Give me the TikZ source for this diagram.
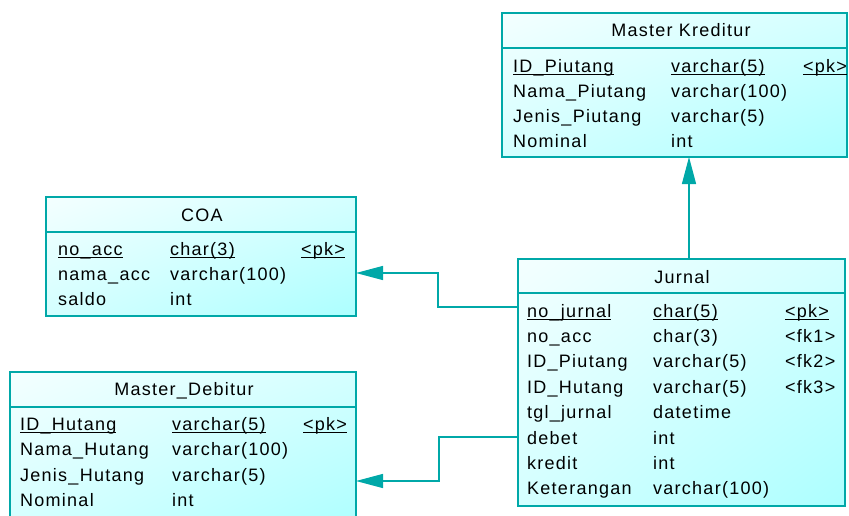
\documentclass[tikz,border=0pt]{standalone}
\usepackage{fontspec}
\setmainfont{Liberation Sans}[LetterSpace=7]
\usetikzlibrary{arrows.meta,shadings}
\definecolor{tealb}{RGB}{0,168,168}
\definecolor{cA}{RGB}{244,255,255}
\definecolor{cB}{RGB}{212,255,255}
\definecolor{cC}{RGB}{172,255,255}
\newcommand\pkul[1]{\setbox0\hbox{#1}\rlap{\rule[-3.2pt]{\wd0}{1.1pt}}\box0}
\begin{document}
\begin{tikzpicture}[x=1pt,y=-1pt,
  tbl/.style={draw=tealb, line width=1.3pt, upper left=cA, upper right=cB, lower left=cB, lower right=cC, anchor=north west, inner sep=0pt, outer sep=0pt},
  txt/.style={anchor=base west, inner sep=0pt, font=\fontsize{18}{20}\selectfont},
  hd/.style={anchor=base, inner sep=0pt, font=\fontsize{18}{20}\selectfont},
  sep/.style={draw=tealb, line width=1.3pt},
  fk/.style={draw=tealb, line width=1.3pt, -{Triangle[length=27pt,width=14pt]}}]
\useasboundingbox (0,0) rectangle (849,515);
\clip (0,0) rectangle (849,515);
% tables
\node[tbl, minimum width=345pt, minimum height=144pt] (kred) at (502,13) {};
\node[tbl, minimum width=310pt, minimum height=119pt] (coa) at (46,197) {};
\node[tbl, minimum width=346pt, minimum height=160pt] (deb) at (10,372) {};
\node[tbl, minimum width=327pt, minimum height=247pt] (jur) at (518,259) {};
% header separators
\draw[sep] (kred.west |- 0,48) -- (kred.east |- 0,48);
\draw[sep] (coa.west |- 0,232) -- (coa.east |- 0,232);
\draw[sep] (deb.west |- 0,407) -- (deb.east |- 0,407);
\draw[sep] (jur.west |- 0,293) -- (jur.east |- 0,293);
% headers
\node[hd] (kredh) at (681,36.7) {Master Kreditur};
\node[hd] (coah) at (202,221.7) {COA};
\node[hd] (debh) at (184,395.7) {Master\_Debitur};
\node[hd] (jurh) at (682,283.3) {Jurnal};
% Master Kreditur
\node[txt] (k1a) at (513,72) {\pkul{ID\_Piutang}};
\node[txt] (k1b) at (671,72) {\pkul{varchar(5)}};
\node[txt] (k1c) at (803,72) {\pkul{<pk>}};
\node[txt] (k2a) at (513,97) {Nama\_Piutang};
\node[txt] (k2b) at (671,97) {varchar(100)};
\node[txt] (k3a) at (513,122) {Jenis\_Piutang};
\node[txt] (k3b) at (671,122) {varchar(5)};
\node[txt] (k4a) at (513,147) {Nominal};
\node[txt] (k4b) at (671,147) {int};
% COA
\node[txt] (c1a) at (58,255) {\pkul{no\_acc}};
\node[txt] (c1b) at (170,255) {\pkul{char(3)}};
\node[txt] (c1c) at (301,255) {\pkul{<pk>}};
\node[txt] (c2a) at (58,280) {nama\_acc};
\node[txt] (c2b) at (170,280) {varchar(100)};
\node[txt] (c3a) at (58,305) {saldo};
\node[txt] (c3b) at (170,305) {int};
% Master_Debitur
\node[txt] (d1a) at (20,430) {\pkul{ID\_Hutang}};
\node[txt] (d1b) at (172,430) {\pkul{varchar(5)}};
\node[txt] (d1c) at (303,430) {\pkul{<pk>}};
\node[txt] (d2a) at (20,455.7) {Nama\_Hutang};
\node[txt] (d2b) at (172,455.7) {varchar(100)};
\node[txt] (d3a) at (20,481) {Jenis\_Hutang};
\node[txt] (d3b) at (172,481) {varchar(5)};
\node[txt] (d4a) at (20,506.5) {Nominal};
\node[txt] (d4b) at (172,506.5) {int};
% Jurnal
\node[txt] (j1a) at (527,317) {\pkul{no\_jurnal}};
\node[txt] (j1b) at (653,317) {\pkul{char(5)}};
\node[txt] (j1c) at (785,317) {\pkul{<pk>}};
\node[txt] (j2a) at (527,342.4) {no\_acc};
\node[txt] (j2b) at (653,342.4) {char(3)};
\node[txt] (j2c) at (785,342.4) {<fk1>};
\node[txt] (j3a) at (527,367.8) {ID\_Piutang};
\node[txt] (j3b) at (653,367.8) {varchar(5)};
\node[txt] (j3c) at (785,367.8) {<fk2>};
\node[txt] (j4a) at (527,393.2) {ID\_Hutang};
\node[txt] (j4b) at (653,393.2) {varchar(5)};
\node[txt] (j4c) at (785,393.2) {<fk3>};
\node[txt] (j5a) at (527,418.6) {tgl\_jurnal};
\node[txt] (j5b) at (653,418.6) {datetime};
\node[txt] (j6a) at (527,444) {debet};
\node[txt] (j6b) at (653,444) {int};
\node[txt] (j7a) at (527,469.4) {kredit};
\node[txt] (j7b) at (653,469.4) {int};
\node[txt] (j8a) at (527,494.8) {Keterangan};
\node[txt] (j8b) at (653,494.8) {varchar(100)};
% connectors
\coordinate (kx) at (689,0);
\draw[fk] (jur.north -| kx) -- (kred.south -| kx);
\draw[fk] (jur.west |- 0,307) -| (438,273) -- (coa.east |- 0,273);
\draw[fk] (jur.west |- 0,437) -| (439,481) -- (deb.east |- 0,481);
\end{tikzpicture}
\end{document}
